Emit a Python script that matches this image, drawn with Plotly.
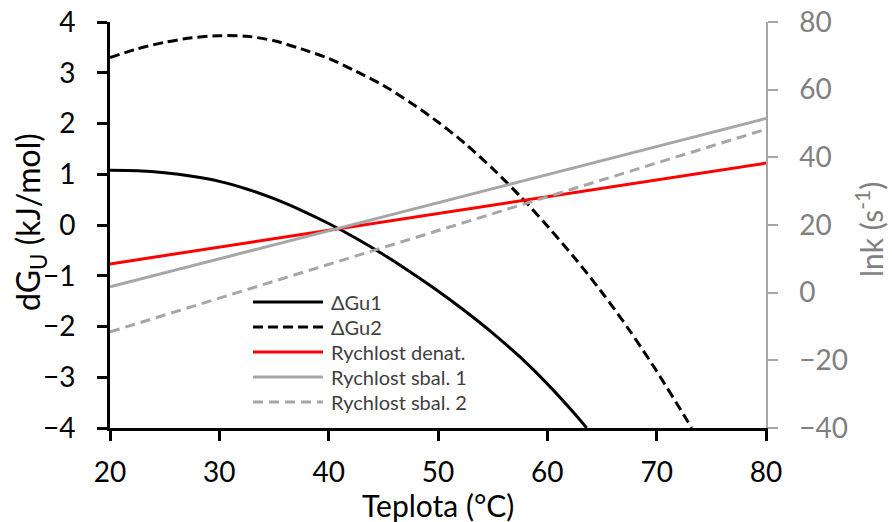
import plotly.graph_objects as go

# ---- data ----
t_gu1 = [20, 22.5, 25, 27.5, 30, 32.5, 35, 37.5, 40, 42.5, 45, 47.5, 50, 52.5, 55, 57.5, 60, 62.5, 63.6]
gu1 = [1.08, 1.07, 1.03, 0.96, 0.86, 0.71, 0.52, 0.29, 0.03, -0.26, -0.58, -0.93, -1.30, -1.70, -2.13, -2.60, -3.13, -3.72, -4.0]

t_gu2 = [20, 22.5, 25, 27.5, 30, 32.5, 35, 37.5, 40, 42.5, 45, 47.5, 50, 52.5, 55, 57.5, 60, 62.5, 65, 67.5, 70, 72.5, 73.2]
gu2 = [3.30, 3.47, 3.60, 3.69, 3.73, 3.72, 3.63, 3.47, 3.28, 3.03, 2.75, 2.41, 2.03, 1.60, 1.11, 0.57, -0.02, -0.65, -1.33, -2.07, -2.88, -3.75, -4.0]

t_rate = [20, 80]
rate_denat = [8.5, 38.3]
rate_sbal1 = [1.7, 51.5]
rate_sbal2 = [-11.6, 48.3]

x_ticks = [20, 30, 40, 50, 60, 70, 80]
y_left_ticks = [-4, -3, -2, -1, 0, 1, 2, 3, 4]
y_right_ticks = [-40, -20, 0, 20, 40, 60, 80]

legend_names = ["ΔGu1", "ΔGu2", "Rychlost denat.", "Rychlost sbal. 1", "Rychlost sbal. 2"]
x_title = "Teplota (°C)"
y_title = "dG<sub>U</sub> (kJ/mol)"
y2_title = "lnk (s<sup>-1</sup>)"

FONT = "Lato, 'Open Sans', 'DejaVu Sans', sans-serif"
BLACK = "#000000"
RED = "#ff0000"
GRAY = "#a6a6a6"
AXGRAY = "#808080"

styles = [
    dict(color=BLACK, width=3, dash="solid"),
    dict(color=BLACK, width=3, dash="10px,5px"),
    dict(color=RED, width=3, dash="solid"),
    dict(color=GRAY, width=3, dash="solid"),
    dict(color=GRAY, width=3, dash="10px,6px"),
]

fig = go.Figure()
fig.add_trace(go.Scatter(x=t_gu1, y=gu1, mode="lines", name=legend_names[0],
                         line=dict(shape="spline", smoothing=0.8, **styles[0]), yaxis="y"))
fig.add_trace(go.Scatter(x=t_gu2, y=gu2, mode="lines", name=legend_names[1],
                         line=dict(shape="spline", smoothing=0.8, **styles[1]), yaxis="y"))
fig.add_trace(go.Scatter(x=t_rate, y=rate_denat, mode="lines", name=legend_names[2],
                         line=styles[2], yaxis="y2"))
fig.add_trace(go.Scatter(x=t_rate, y=rate_sbal1, mode="lines", name=legend_names[3],
                         line=styles[3], yaxis="y2"))
fig.add_trace(go.Scatter(x=t_rate, y=rate_sbal2, mode="lines", name=legend_names[4],
                         line=styles[4], yaxis="y2"))

# layout geometry (pixels) -> paper coords
L, R, T, B = 110, 766, 22, 428
def px(xp):
    return (xp - L) / (R - L)
def py(yp):
    return (B - yp) / (B - T)

# manual legend
leg_y = [302, 327, 352, 377, 402]
for name, st, yy in zip(legend_names, styles, leg_y):
    fig.add_shape(type="line", xref="paper", yref="paper",
                  x0=px(253), x1=px(323), y0=py(yy), y1=py(yy),
                  line=dict(color=st["color"], width=3, dash=st["dash"]))
    fig.add_annotation(xref="paper", yref="paper", x=px(329), y=py(yy),
                       text=name, showarrow=False, xanchor="left", yanchor="middle",
                       font=dict(family=FONT, size=20, color="#404040"))

# axis titles as annotations
fig.add_annotation(xref="paper", yref="paper", x=px(438), y=py(505), text=x_title,
                   showarrow=False, xanchor="center", yanchor="middle",
                   font=dict(family=FONT, size=30, color=BLACK))
fig.add_annotation(xref="paper", yref="paper", x=px(30), y=py(222), text=y_title,
                   showarrow=False, xanchor="center", yanchor="middle", textangle=-90,
                   font=dict(family=FONT, size=32, color=BLACK))
fig.add_annotation(xref="paper", yref="paper", x=px(869), y=py(230), text=y2_title,
                   showarrow=False, xanchor="center", yanchor="middle", textangle=-90,
                   font=dict(family=FONT, size=30, color=AXGRAY))

fig.update_layout(
    width=892, height=522,
    margin=dict(l=L, r=892 - R, t=T, b=522 - B),
    paper_bgcolor="white", plot_bgcolor="white",
    showlegend=False,
    font=dict(family=FONT, size=28, color=BLACK),
    xaxis=dict(range=[20, 80], tickvals=x_ticks, showgrid=False, zeroline=False,
               showline=True, linecolor=BLACK, linewidth=3, automargin=False,
               ticks="outside", ticklen=10, tickwidth=3, tickcolor=BLACK,
               ticklabelstandoff=7,
               tickfont=dict(family=FONT, size=28, color=BLACK)),
    yaxis=dict(range=[-4, 4], tickvals=y_left_ticks, showgrid=False, zeroline=False,
               showline=True, linecolor=BLACK, linewidth=3, automargin=False,
               ticks="outside", ticklen=10, tickwidth=3, tickcolor=BLACK,
               ticklabelstandoff=16,
               tickfont=dict(family=FONT, size=28, color=BLACK)),
    yaxis2=dict(range=[-40, 80], tickvals=y_right_ticks, overlaying="y", side="right",
                showgrid=False, zeroline=False, automargin=False,
                showline=True, linecolor=GRAY, linewidth=1.5,
                ticks="outside", ticklen=10, tickwidth=1.5, tickcolor=GRAY,
                ticklabelstandoff=16,
                tickfont=dict(family=FONT, size=28, color=AXGRAY)),
)

fig.write_html("out.html")
